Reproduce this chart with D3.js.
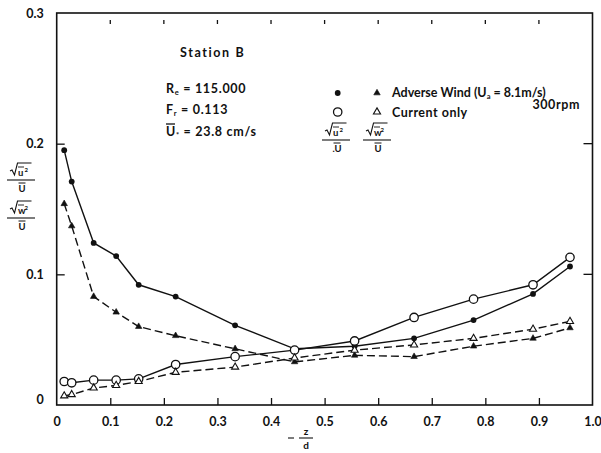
<!DOCTYPE html>
<html>
<head>
<meta charset="utf-8">
<script src="https://cdn.jsdelivr.net/npm/d3@7"></script>
<style>
  html, body { margin: 0; padding: 0; background: #fff; }
  svg text { font-family: "Lato", "DejaVu Sans", sans-serif; fill: #111; }
</style>
</head>
<body>
<svg id="chart" width="601" height="453"></svg>
<script>
// Relative depth -z/d of the measuring points
const depth = [0.014, 0.028, 0.069, 0.111, 0.153, 0.222, 0.333, 0.444, 0.556, 0.667, 0.778, 0.889, 0.958];
// Turbulence intensities, adverse wind (Ua = 8.1 m/s, 300 rpm)
const uAdverse = [0.195, 0.171, 0.124, 0.114, 0.092, 0.083, 0.061, 0.043, 0.045, 0.051, 0.065, 0.085, 0.106];
const wAdverse = [0.154, 0.137, 0.083, 0.071, 0.060, 0.053, 0.043, 0.033, 0.038, 0.037, 0.045, 0.051, 0.059];
// Turbulence intensities, current only
const uCurrent = [0.018, 0.017, 0.019, 0.019, 0.020, 0.031, 0.037, 0.042, 0.049, 0.067, 0.081, 0.092, 0.113];
const wCurrent = [0.007, 0.008, 0.013, 0.015, 0.018, 0.025, 0.029, 0.036, 0.042, 0.046, 0.051, 0.058, 0.064];
// Axis ticks
const xTicks = [0, 0.1, 0.2, 0.3, 0.4, 0.5, 0.6, 0.7, 0.8, 0.9, 1.0];
const xTickLabels = ["0", "0.1", "0.2", "0.3", "0.4", "0.5", "0.6", "0.7", "0.8", "0.9", "1.0"];
const yTicks = [0, 0.1, 0.2, 0.3];
const yTickLabels = ["0", "0.1", "0.2", "0.3"];

const svg = d3.select("#chart");
const x = d3.scaleLinear().domain([0, 1]).range([56.7, 592.5]);
const y = d3.scaleLinear().domain([0, 0.3]).range([405, 13]);

const g = svg.append("g");

// Frame
g.append("rect")
  .attr("x", x(0)).attr("y", y(0.3))
  .attr("width", x(1) - x(0)).attr("height", y(0) - y(0.3))
  .attr("fill", "none").attr("stroke", "#111").attr("stroke-width", 1.6);

// Bottom axis: inward ticks + labels
const xAxis = d3.axisBottom(x).tickValues(xTicks)
  .tickFormat((d, i) => xTickLabels[i]).tickSize(-7).tickPadding(12);
const gx = g.append("g").attr("transform", `translate(0,${y(0)})`).call(xAxis);
gx.select(".domain").remove();
gx.selectAll(".tick line").attr("stroke", "#111").attr("stroke-width", 1.3)
  .filter(d => d === 0 || d === 1).remove();
gx.selectAll(".tick text").attr("font-size", 12.5).attr("font-weight", "bold").attr("fill", "#111");

// Top ticks (short marks just under the frame)
g.append("g").selectAll("line").data(xTicks.slice(1, 10)).join("line")
  .attr("x1", d => x(d)).attr("x2", d => x(d))
  .attr("y1", y(0.3) + 7).attr("y2", y(0.3) + 11)
  .attr("stroke", "#111").attr("stroke-width", 1.3);

// Left axis: inward ticks + labels
const yAxis = d3.axisLeft(y).tickValues(yTicks)
  .tickFormat((d, i) => yTickLabels[i]).tickSize(-8).tickPadding(13);
const gy = g.append("g").attr("transform", `translate(${x(0)},0)`).call(yAxis);
gy.select(".domain").remove();
gy.selectAll(".tick line").attr("stroke", "#111").attr("stroke-width", 1.3)
  .filter(d => d === 0 || d === 0.3).remove();
gy.selectAll(".tick text").attr("font-size", 12.5).attr("font-weight", "bold").attr("fill", "#111")
  .attr("dy", (d) => d === 0 ? "-0.1em" : "0.32em");

// Right axis inward ticks
g.append("g").selectAll("line").data([0.1, 0.2]).join("line")
  .attr("x1", x(1) - 9).attr("x2", x(1))
  .attr("y1", d => y(d)).attr("y2", d => y(d))
  .attr("stroke", "#111").attr("stroke-width", 1.3);

// Series
const pts = arr => arr.map((v, i) => [depth[i], v]);
const line = d3.line().x(d => x(d[0])).y(d => y(d[1]));

const series = [
  { values: uAdverse, dash: null, marker: "dotFilled" },
  { values: uCurrent, dash: null, marker: "dotOpen" },
  { values: wAdverse, dash: "8,4", marker: "triFilled" },
  { values: wCurrent, dash: "8,4", marker: "triOpen" }
];

series.forEach(s => {
  g.append("path").datum(pts(s.values))
    .attr("d", line).attr("fill", "none").attr("stroke", "#111")
    .attr("stroke-width", 1.4).attr("stroke-dasharray", s.dash);
});

function drawMarker(sel, type, cx, cy) {
  if (type === "dotFilled") {
    sel.append("circle").attr("cx", cx).attr("cy", cy).attr("r", 2.9).attr("fill", "#111");
  } else if (type === "dotOpen") {
    sel.append("circle").attr("cx", cx).attr("cy", cy).attr("r", 4.2)
      .attr("fill", "#fff").attr("stroke", "#111").attr("stroke-width", 1.3);
  } else {
    const t = d3.symbol().type(d3.symbolTriangle).size(type === "triFilled" ? 18 : 22);
    sel.append("path").attr("d", t()).attr("transform", `translate(${cx},${cy})`)
      .attr("fill", type === "triFilled" ? "#111" : "#fff")
      .attr("stroke", "#111").attr("stroke-width", type === "triFilled" ? 0.6 : 1.1);
  }
}

series.forEach(s => {
  const mg = g.append("g");
  pts(s.values).forEach(p => drawMarker(mg, s.marker, x(p[0]), y(p[1])));
});

// Annotations
const ann = svg.append("g").attr("font-weight", "bold");
ann.append("text").attr("x", 180).attr("y", 57).attr("font-size", 12.5)
  .attr("letter-spacing", 1.6).text("Station B");

function subLabel(xp, yp, main, sub, rest) {
  const t = ann.append("text").attr("x", xp).attr("y", yp).attr("font-size", 12.5)
    .attr("letter-spacing", 0.7);
  t.append("tspan").text(main);
  t.append("tspan").attr("font-size", 7.5).attr("dy", 2).text(sub);
  t.append("tspan").attr("dy", -2).text(rest);
  return t;
}
subLabel(166, 93, "R", "e", " = 115.000");
subLabel(166, 114, "F", "r", " = 0.113");
subLabel(166, 136, "U", "*", " = 23.8 cm/s");
// overbar on U*
ann.append("line").attr("x1", 166).attr("x2", 175).attr("y1", 124).attr("y2", 124)
  .attr("stroke", "#111").attr("stroke-width", 1.3);

// Legend
drawMarker(ann, "dotFilled", 337.7, 93);
drawMarker(ann, "triFilled", 377, 93);
drawMarker(ann, "dotOpen", 337.7, 112);
drawMarker(ann, "triOpen", 377, 112);
const adv = ann.append("text").attr("x", 392).attr("y", 97).attr("font-size", 12.5);
adv.append("tspan").text("Adverse Wind (U");
adv.append("tspan").attr("font-size", 7.5).attr("dy", 2).text("a");
adv.append("tspan").attr("dy", -2).text(" = 8.1m/s)");
ann.append("text").attr("x", 580).attr("y", 109).attr("font-size", 12.5)
  .attr("letter-spacing", 0.6).attr("text-anchor", "end").text("300rpm");
ann.append("text").attr("x", 392).attr("y", 117).attr("font-size", 12.5)
  .attr("letter-spacing", 0.5).text("Current only");

// Fraction sqrt(q'^2)/U drawn with a radical sign and overbars
function fraction(cx, cyBar, letter, dotDen) {
  const fg = ann.append("g");
  const fs = 9.5;
  // radical
  fg.append("path")
    .attr("d", `M${cx - 12},${cyBar - 9} l2,-1 l2.5,5 l3,-12 l14,0`)
    .attr("fill", "none").attr("stroke", "#111").attr("stroke-width", 1.1);
  fg.append("text").attr("x", cx - 4).attr("y", cyBar - 4).attr("font-size", fs).text(letter);
  fg.append("text").attr("x", cx + 2.5).attr("y", cyBar - 8).attr("font-size", 6).text("2");
  fg.append("line").attr("x1", cx - 4).attr("x2", cx + 2).attr("y1", cyBar - 13).attr("y2", cyBar - 13)
    .attr("stroke", "#111").attr("stroke-width", 0.9);
  // fraction bar
  fg.append("line").attr("x1", cx - 15).attr("x2", cx + 13).attr("y1", cyBar).attr("y2", cyBar)
    .attr("stroke", "#111").attr("stroke-width", 1.1);
  // denominator
  fg.append("text").attr("x", cx).attr("y", cyBar + 12).attr("font-size", fs)
    .attr("text-anchor", "middle").text((dotDen ? "." : "") + "U");
  fg.append("line").attr("x1", cx - 3.5).attr("x2", cx + 3.5).attr("y1", cyBar + 3).attr("y2", cyBar + 3)
    .attr("stroke", "#111").attr("stroke-width", 1);
}
fraction(337, 140, "u", true);
fraction(378, 140, "w", false);

// Y-axis title
fraction(22, 180, "u", false);
fraction(22, 218, "w", false);

// X-axis title: - z/d
const xt = svg.append("g").attr("font-weight", "bold");
xt.append("line").attr("x1", 288).attr("x2", 294).attr("y1", 438).attr("y2", 438)
  .attr("stroke", "#111").attr("stroke-width", 1.1);
xt.append("line").attr("x1", 299).attr("x2", 313).attr("y1", 438).attr("y2", 438)
  .attr("stroke", "#111").attr("stroke-width", 1.1);
xt.append("text").attr("x", 306).attr("y", 435).attr("font-size", 10).attr("text-anchor", "middle").text("z");
xt.append("text").attr("x", 306).attr("y", 449).attr("font-size", 10).attr("text-anchor", "middle").text("d");
</script>
</body>
</html>
